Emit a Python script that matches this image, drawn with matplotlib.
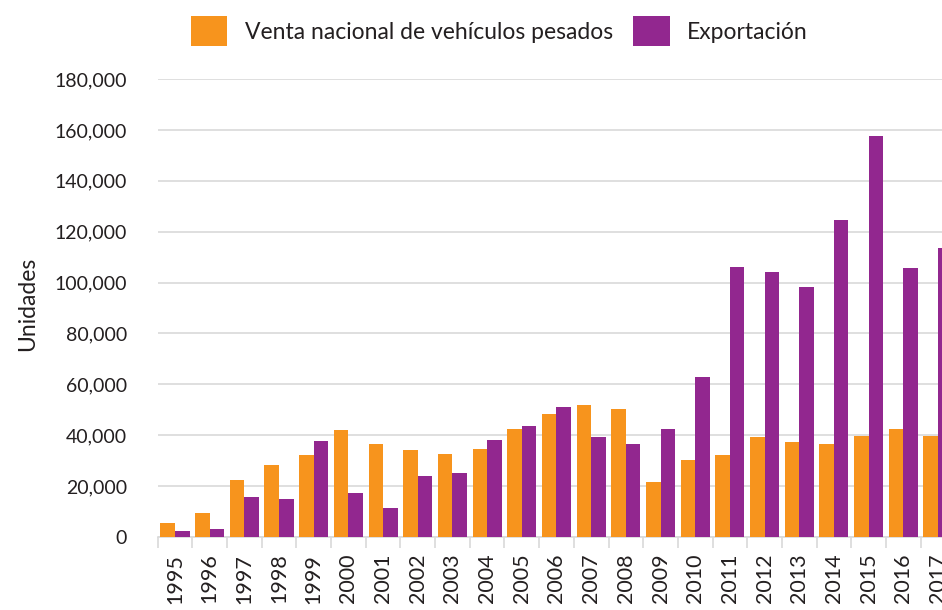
import numpy as np
import matplotlib
matplotlib.use('Agg')
import matplotlib.pyplot as plt
from matplotlib.ticker import FuncFormatter, FixedLocator

# datos
anios = [str(a) for a in range(1995, 2018)]
venta_nacional = [5500, 9400, 22400, 28300, 32200, 42000, 36500, 34200, 32600, 34600,
                  42400, 48300, 51800, 50300, 21600, 30300, 32300, 39300, 37300, 36500,
                  39700, 42400, 39700]
exportacion = [2400, 3100, 15700, 14900, 37700, 17300, 11400, 24000, 25200, 38100,
               43600, 51100, 39300, 36500, 42400, 62800, 106100, 104100, 98300, 124600,
               157500, 105700, 113500]

naranja = '#F7941D'
morado = '#92278F'
gris = '#d9d9d9'
texto = '#231f20'

plt.rcParams['font.family'] = ['Lato', 'DejaVu Sans']

fig = plt.figure(figsize=(9.42, 6.10), dpi=100)
ax = fig.add_axes([0.1674, 0.1197, 0.8467, 0.7508])

x = np.arange(len(anios))
w = 0.42
b1 = ax.bar(x - w/2, venta_nacional, w, color=naranja, label='Venta nacional de vehículos pesados', zorder=3)
b2 = ax.bar(x + w/2, exportacion, w, color=morado, label='Exportación', zorder=3)

ax.set_xlim(-0.5, len(anios) - 0.5)
ax.set_ylim(0, 180000)
ax.set_yticks(np.arange(0, 180001, 20000))
ax.yaxis.set_major_formatter(FuncFormatter(lambda v, p: '{:,.0f}'.format(v)))
ax.grid(axis='y', color=gris, linewidth=1.2, zorder=0)
ax.set_axisbelow(True)

ax.set_xticks(x)
ax.set_xticklabels(anios, rotation=90, fontsize=15.5, color=texto)
ax.xaxis.set_minor_locator(FixedLocator(np.arange(-0.5, len(anios), 1)))
ax.tick_params(axis='x', which='major', length=0, pad=12)
ax.tick_params(axis='x', which='minor', length=8, width=1.2, color=gris)
ax.tick_params(axis='y', length=0, pad=22, labelsize=14, labelcolor=texto)

for s in ['top', 'right', 'left']:
    ax.spines[s].set_visible(False)
ax.spines['bottom'].set_color(gris)
ax.spines['bottom'].set_linewidth(1.2)

ax.set_ylabel('Unidades', fontsize=16.5, color=texto)
ax.yaxis.set_label_coords(-0.150, 0.509)

fig.legend(handles=[b1, b2], loc='center', bbox_to_anchor=(0.53, 0.949), ncol=2,
           frameon=False, fontsize=16.5, handlelength=1.6, handleheight=1.6,
           handletextpad=0.75, columnspacing=0.9, labelcolor=texto)

fig.savefig('out.png', dpi=100)
